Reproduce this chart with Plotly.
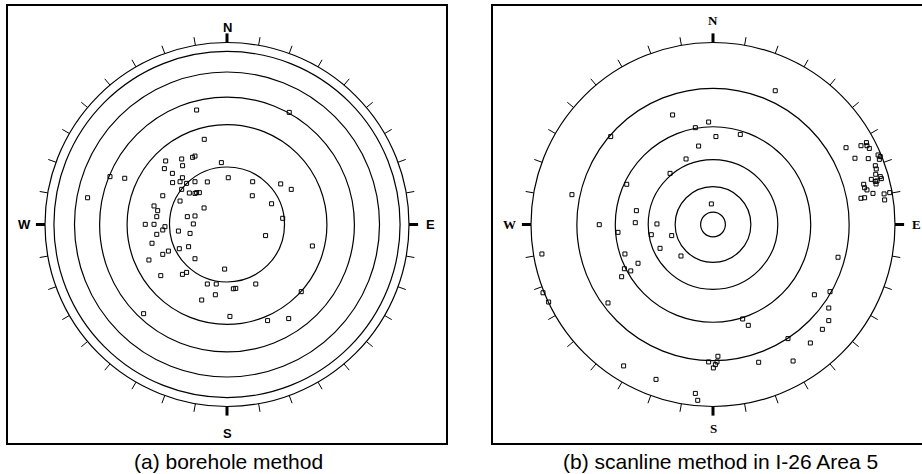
import numpy as np
import plotly.graph_objects as go

# ---------------- data (stereonet coordinates, net radius = 100; east / north) ----------------
rings_a = [100, 95.1, 83.8, 70.0, 54.9, 31.6]
rings_b = [100, 74.8, 53.7, 35.6, 20.8, 6.8]
tick_azimuths = list(range(0, 360, 10))
cardinal_azimuths = [0, 90, 180, 270]
cardinal_labels = ["N", "E", "S", "W"]
captions = ["(a) borehole method", "(b) scanline method in I-26 Area 5"]

a_east = [-16.7, 34.2, -12.5, -24.9, -18.9, -17.6, -33.7, -24.4, -3.1, -34.4,
          -30.0, -24.5, -64.3, -56.2, -29.9, -25.8, -22.2, -17.6, -10.8, 0.7,
          14.1, 29.5, 35.3, -24.9, -20.7, -17.6, -16.7, -15.2, -35.3, 13.9,
          -76.6, -25.8, -40.1, -38.1, -12.6, 24.5, -38.6, -21.8, -17.6, 30.6,
          -44.9, -40.1, -34.1, -35.3, -18.5, -26.7, -20.3, -38.6, 21.2, -41.2,
          46.9, -26.2, -21.1, -32.2, -35.3, -42.9, -17.6, -1.3, -22.2, -24.5,
          -36.4, -10.8, -5.9, 15.8, 3.5, 4.8, -6.4, 40.8, -13.9, -45.8,
          1.6, 22.3, 33.9]
a_north = [62.9, 61.6, 46.8, 36.0, 36.9, 37.6, 34.9, 32.3, 34.0, 30.7,
           28.1, 25.7, 26.3, 25.4, 23.0, 23.5, 22.6, 23.5, 23.4, 25.7,
           23.5, 22.3, 19.3, 19.3, 17.3, 17.1, 17.5, 17.5, 15.8, 15.8,
           14.7, 12.9, 10.2, 7.6, 9.1, 11.4, 4.3, 4.3, 4.7, 3.4,
           0.1, 0.1, -1.2, -3.0, 0.3, -3.6, -4.9, -5.4, -6.1, -10.3,
           -11.8, -13.3, -12.2, -14.6, -16.4, -19.5, -18.8, -24.5, -26.3, -27.4,
           -28.1, -32.7, -32.7, -32.7, -35.3, -35.1, -38.6, -36.9, -41.5, -49.0,
           -50.5, -52.8, -51.7]

b_east = [34.2, -22.2, -2.4, -9.7, -56.2, 1.6, 15.0, -7.9, -14.8, -23.6,
          -47.4, -77.5, -0.9, -42.1, -42.7, -62.5, -30.8, -52.2, -33.9, -22.7,
          -29.1, -94.0, -48.4, -17.6, -41.2, -48.7, -45.2, -50.2, 68.7, -93.4,
          -90.3, -57.7, 55.7, 64.3, 63.6, 16.3, 19.4, 63.6, 60.1, 41.2,
          53.5, 2.7, -2.4, 2.2, 1.3, 0.2, 25.1, 44.0, -49.1, -31.3,
          -9.7, -8.4, 73.1, 81.3, 84.3, 84.6, 85.9, 78.0, 85.3, 90.7,
          91.9, 91.4, 89.2, 89.7, 87.0, 89.2, 90.1, 92.5, 89.4, 82.8,
          83.3, 84.6, 89.6, 87.9, 81.3, 83.3, 94.0, 94.3, 97.1, 91.9]
b_north = [73.5, 60.2, 56.3, 53.2, 48.3, 48.3, 49.5, 43.1, 36.0, 28.1,
           22.1, 16.4, 11.3, 7.6, 1.0, -0.1, 0.3, -4.3, -5.6, -6.1,
           -13.1, -16.2, -16.2, -17.3, -21.3, -24.3, -25.5, -28.7, -18.0, -37.5,
           -42.6, -43.1, -38.6, -36.9, -45.9, -51.9, -55.4, -52.8, -57.6, -62.7,
           -65.1, -72.4, -75.5, -75.5, -77.0, -78.8, -75.7, -75.0, -77.7, -85.1,
           -92.8, -96.6, 42.2, 43.3, 45.0, 43.3, 41.8, 36.4, 36.2, 38.2,
           37.3, 35.8, 32.3, 30.5, 24.8, 23.7, 23.9, 25.2, 27.6, 22.1,
           20.2, 19.0, 22.3, 17.1, 14.4, 14.7, 16.8, 13.5, 17.5, 26.3]

# ---------------- layout geometry ----------------
W, H = 922, 474
PX = 1.82          # pixels per net unit (net radius 100 -> 182 px)
CY = 224.5         # net centre, px from top
panels = [
    dict(xa="x", ya="y", cx=227, box=(8, 446), rings=rings_a, e=a_east, n=a_north,
         font=dict(family="Liberation Sans", size=13, color="black"),
         label_r={"N": 108, "E": 112, "S": 115, "W": 111},
         anchors={"N": "center", "E": "center", "S": "center", "W": "center"}, cap_x=228),
    dict(xa="x2", ya="y2", cx=713, box=(493, 922), rings=rings_b, e=b_east, n=b_north,
         font=dict(family="Liberation Serif", size=13, color="black"),
         label_r={"N": 112, "E": 108.5, "S": 112, "W": 112},
         anchors={"N": "center", "E": "left", "S": "center", "W": "center"}, cap_x=720),
]
BOX_TOP, BOX_BOT = 6, 443
CAP_Y = 461

fig = go.Figure()
for i, p in enumerate(panels):
    # rings
    for r in p["rings"]:
        fig.add_shape(type="circle", xref=p["xa"], yref=p["ya"], x0=-r, y0=-r, x1=r, y1=r,
                      line=dict(color="black", width=1.2), layer="below")
    # 10-degree ticks
    az = np.radians(tick_azimuths)
    tx, ty = [], []
    for a in az:
        tx += [100 * np.sin(a), 104.5 * np.sin(a), None]
        ty += [100 * np.cos(a), 104.5 * np.cos(a), None]
    fig.add_trace(go.Scatter(x=tx, y=ty, mode="lines", line=dict(color="black", width=1),
                             xaxis=p["xa"], yaxis=p["ya"], hoverinfo="skip"))
    # cardinal ticks
    az = np.radians(cardinal_azimuths)
    tx, ty = [], []
    for a in az:
        tx += [100 * np.sin(a), 105 * np.sin(a), None]
        ty += [100 * np.cos(a), 105 * np.cos(a), None]
    fig.add_trace(go.Scatter(x=tx, y=ty, mode="lines", line=dict(color="black", width=3),
                             xaxis=p["xa"], yaxis=p["ya"], hoverinfo="skip"))
    # cardinal labels
    for a_deg, lab in zip(cardinal_azimuths, cardinal_labels):
        rr = p["label_r"][lab]
        a = np.radians(a_deg)
        fig.add_annotation(x=rr * np.sin(a), y=rr * np.cos(a), xref=p["xa"], yref=p["ya"],
                           text=f"<b>{lab}</b>", showarrow=False,
                           font=p["font"], xanchor=p["anchors"][lab], yanchor="middle")
    # poles
    fig.add_trace(go.Scatter(x=p["e"], y=p["n"], mode="markers",
                             marker=dict(symbol="square-open", size=4, color="black",
                                         line=dict(width=1, color="black")),
                             xaxis=p["xa"], yaxis=p["ya"]))
    # caption
    fig.add_annotation(x=p["cap_x"] / W, y=(H - CAP_Y) / H, xref="paper", yref="paper",
                       text=captions[i], showarrow=False, xanchor="center", yanchor="middle",
                       font=dict(family="Liberation Sans", size=21, color="black"))

def axis_common():
    return dict(showgrid=False, zeroline=False, showticklabels=False, ticks="",
                showline=True, linecolor="black", linewidth=1.6, fixedrange=True)

ydom = [(H - BOX_BOT) / H, (H - BOX_TOP) / H]
yr = [-(BOX_BOT - CY) / PX, (CY - BOX_TOP) / PX]
layout_axes = {}
for i, p in enumerate(panels):
    sfx = "" if i == 0 else "2"
    x0, x1 = p["box"]
    layout_axes["xaxis" + sfx] = dict(axis_common(), domain=[x0 / W, x1 / W],
                                      range=[(x0 - p["cx"]) / PX, (x1 - p["cx"]) / PX],
                                      mirror=True, anchor="y" + sfx)
    layout_axes["yaxis" + sfx] = dict(axis_common(), domain=ydom, range=yr,
                                      mirror=(i == 0), anchor="x" + sfx)

fig.update_layout(width=W, height=H, margin=dict(l=0, r=0, t=0, b=0),
                  paper_bgcolor="white", plot_bgcolor="white", showlegend=False,
                  hovermode=False, **layout_axes)
fig.write_html("out.html", config={"displayModeBar": False, "staticPlot": True},
               post_script="document.body.style.margin='0';document.body.style.overflow='hidden';")
